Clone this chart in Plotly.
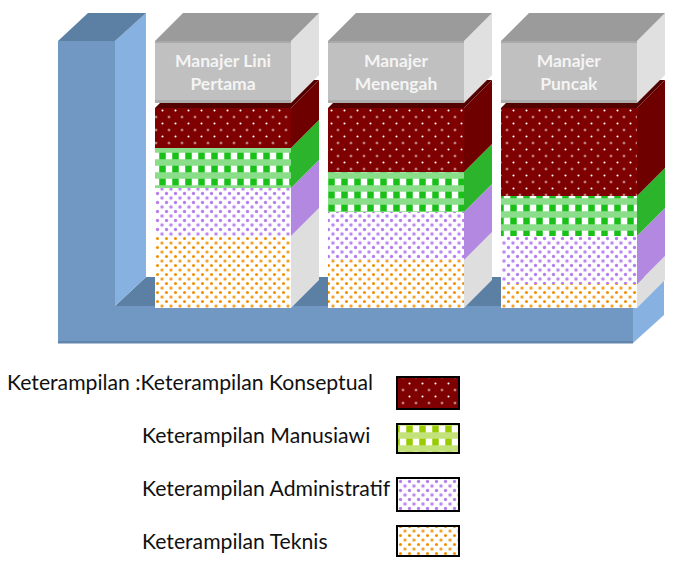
import numpy as np
import plotly.graph_objects as go

# ---- data ----
levels = ["Manajer Lini<br>Pertama", "Manajer<br>Menengah", "Manajer<br>Puncak"]
teknis = [36, 24, 12]
administratif = [24, 24, 24]
manusiawi = [20, 20, 20]
konseptual = [20, 32, 44]
header_height = [31, 31, 31]
legend_labels = ["Keterampilan :Keterampilan Konseptual", "Keterampilan Manusiawi",
                 "Keterampilan Administratif", "Keterampilan Teknis"]

# ---- scales: the axes fill the whole page ----
W, H = 678, 565
PITCH, X0 = 173.0, 223.0      # px per column, px of first column centre
PXU, Y0 = 2.0, 308.0          # px per value unit, px of value 0
BAR_W = 136 / PITCH
DX, DY = 28 / PITCH, 28 / PXU  # 3-D depth offset


def xd(px):
    return (px - X0) / PITCH


def yd(px):
    return (Y0 - px) / PXU


def poly(points, color, layer="below"):
    path = "M" + " L".join(f"{xd(a):.4f},{yd(b):.3f}" for a, b in points) + " Z"
    return dict(type="path", path=path, xref="x", yref="y", fillcolor=color,
                line=dict(width=0), layer=layer)


FRONT, SIDE, TOP = "#7198c2", "#86b1e0", "#5c7fa4"
shapes = []
# wall and floor
shapes += [
    poly([(115, 306), (146, 277), (664, 277), (633, 306)], TOP),
    poly([(633, 306), (664, 277), (664, 315), (633, 343)], SIDE),
    poly([(115, 41), (146, 13), (146, 277), (115, 306)], SIDE),
    poly([(58, 41), (88, 13), (146, 13), (115, 41)], TOP),
    poly([(58, 41), (115, 41), (115, 343), (58, 343)], FRONT),
    poly([(113, 306), (633, 306), (633, 343), (113, 343)], FRONT),
    poly([(58, 341), (633, 341), (633, 343.5), (58, 343.5)], "#6485ab"),
]

x = np.arange(len(levels), dtype=float)
b1 = np.zeros(3)
b2 = b1 + np.array(teknis)
b3 = b2 + np.array(administratif)
b4 = b3 + np.array(manusiawi)
b5 = b4 + np.array(konseptual)
cap_base = b5 + 2.5
cap_top = cap_base + np.array(header_height)

# 3-D side faces derived from the values
for i, xc in enumerate(x):
    xr = xc + BAR_W / 2
    xl = xc - BAR_W / 2

    def side(lo, hi, color):
        pts = [(xr, lo), (xr + DX, lo + DY), (xr + DX, hi + DY), (xr, hi)]
        path = "M" + " L".join(f"{a:.4f},{b:.3f}" for a, b in pts) + " Z"
        return dict(type="path", path=path, xref="x", yref="y", fillcolor=color,
                    line=dict(width=0), layer="below")

    shapes.append(side(b1[i], b2[i], "#dedede"))
    shapes.append(side(b2[i], b3[i], "#b388e0"))
    shapes.append(side(b3[i], b4[i], "#2cb52c"))
    shapes.append(side(b4[i], b5[i], "#6e0000"))
    # top of the maroon block
    pts = [(xl, b5[i]), (xr, b5[i]), (xr + DX, b5[i] + DY), (xl + DX, b5[i] + DY)]
    shapes.append(dict(type="path",
                       path="M" + " L".join(f"{a:.4f},{b:.3f}" for a, b in pts) + " Z",
                       xref="x", yref="y", fillcolor="#520000", line=dict(width=0), layer="below"))
    # header side and top
    shapes.append(side(cap_base[i], cap_top[i], "#e0e0e0"))
    pts = [(xl, cap_top[i]), (xr, cap_top[i]), (xr + DX, cap_top[i] + DY), (xl + DX, cap_top[i] + DY)]
    shapes.append(dict(type="path",
                       path="M" + " L".join(f"{a:.4f},{b:.3f}" for a, b in pts) + " Z",
                       xref="x", yref="y", fillcolor="#9b9b9b", line=dict(width=0), layer="below"))
    # header bevels
    for lo, hi, col in [(cap_top[i] - 1, cap_top[i], "#a9a9a9"), (cap_base[i], cap_base[i] + 1.5, "#adadad")]:
        shapes.append(dict(type="rect", x0=xl, x1=xr, y0=lo, y1=hi, xref="x", yref="y",
                           fillcolor=col, line=dict(width=0), layer="above"))


def dots(fg, bg, size, solidity):
    return dict(shape=".", fgcolor=fg, bgcolor=bg, size=size, solidity=solidity, fgopacity=1)


CLEAR = "rgba(0,0,0,0)"
DOT_FG, DOT_BG, DOT_S, DOT_SOL = "#ffffff", "#7f0000", 13, 0.02
ADM_FG, ADM_S, ADM_SOL = "#b57fee", 9, 0.11
TEK_FG, TEK_S, TEK_SOL = "#f09000", 9, 0.09


def gingham_v(c):
    return dict(shape="|", fgcolor=c, bgcolor="#ffffff", size=13, solidity=0.5, fgopacity=1)


def gingham_h(c):
    return dict(shape="-", fgcolor=c, bgcolor=CLEAR, size=13, solidity=0.5, fgopacity=1)


fig = go.Figure()


def bar(xs, ys, base, pat, width=BAR_W, line=None, axes=("x", "y"), **kw):
    fig.add_trace(go.Bar(x=xs, y=ys, base=base, width=width, showlegend=False, hoverinfo="skip",
                         opacity=1, xaxis=axes[0], yaxis=axes[1],
                         marker=dict(pattern=pat, color=pat["bgcolor"], opacity=1,
                                     line=line or dict(width=0)), **kw))


# half-tile shifted sub-plots give the dot patterns their staggered rows
AX13 = ("x2", "y2")
AX9 = ("x3", "y3")


def dotted(xs, ys, base, fg, bg, size, sol, ax, **kw):
    bar(xs, ys, base, dots(fg, bg, size, sol), **kw)
    bar(xs, ys, base, dots(fg, CLEAR, size, sol), axes=ax, **kw)


dotted(x, teknis, b1, TEK_FG, "#ffffff", TEK_S, TEK_SOL, AX9)
dotted(x, administratif, b2, ADM_FG, "#ffffff", ADM_S, ADM_SOL, AX9)
bar(x, manusiawi, b3, gingham_v("#18c018"))
bar(x, manusiawi, b3, gingham_h("#8ade8a"))
dotted(x, konseptual, b4, DOT_FG, DOT_BG, DOT_S, DOT_SOL, AX13)
fig.add_trace(go.Bar(x=x, y=header_height, base=cap_base, width=BAR_W, showlegend=False, hoverinfo="skip",
                     opacity=1,
                     marker=dict(color="#c0c0c0", opacity=1, line=dict(width=0)), text=levels,
                     textposition="inside", insidetextanchor="middle", textangle=0,
                     insidetextfont=dict(family="Lato", size=17.5, color="#f4f4f4", weight="bold")))

# legend swatches and labels
SW = [(377, 409), (424, 453), (478, 511), (526, 556)]
LBL_Y = [382, 435, 488, 541]
LBL_X = [5, 140, 140, 140]
sx = [xd(428)]
sw = 62 / PITCH
box = dict(width=2, color="#000000")


def sh(k):
    top, bot = SW[k]
    return [(bot - top) / PXU], [yd(bot)]


ys, bs = sh(0)
dotted(sx, ys, bs, DOT_FG, DOT_BG, DOT_S, DOT_SOL, AX13, width=sw, line=box)
ys, bs = sh(1)
bar(sx, ys, bs, gingham_v("#99cc00"), width=sw)
bar(sx, ys, bs, gingham_h("#c4e27a"), width=sw, line=box)
ys, bs = sh(2)
dotted(sx, ys, bs, ADM_FG, "#ffffff", ADM_S, ADM_SOL, AX9, width=sw, line=box)
ys, bs = sh(3)
dotted(sx, ys, bs, TEK_FG, "#ffffff", TEK_S, TEK_SOL, AX9, width=sw, line=box)

annotations = [dict(x=xd(px), y=yd(py), xref="x", yref="y", text=t, showarrow=False,
                    xanchor="left", yanchor="middle",
                    font=dict(family="Lato", size=21.2, color="#111111"))
               for t, px, py in zip(legend_labels, LBL_X, LBL_Y)]


def shifted_axes(s, name):
    return {
        "xaxis" + name: dict(domain=[s / W, 1], range=[xd(s), xd(W)], visible=False,
                             fixedrange=True, anchor="y" + name),
        "yaxis" + name: dict(domain=[0, 1 - s / H], range=[yd(H), yd(s)], visible=False,
                             fixedrange=True, anchor="x" + name),
    }


fig.update_layout(
    width=W, height=H, margin=dict(l=0, r=0, t=0, b=0), autosize=False,
    barmode="overlay", paper_bgcolor="#ffffff", plot_bgcolor="rgba(0,0,0,0)",
    xaxis=dict(range=[xd(0), xd(W)], visible=False, fixedrange=True),
    yaxis=dict(range=[yd(H), yd(0)], visible=False, fixedrange=True),
    shapes=shapes, annotations=annotations,
    **shifted_axes(DOT_S / 2, "2"), **shifted_axes(ADM_S / 2, "3"),
)
fig.write_html("out.html", config=dict(displayModeBar=False),
               post_script="document.body.style.margin='0';")
